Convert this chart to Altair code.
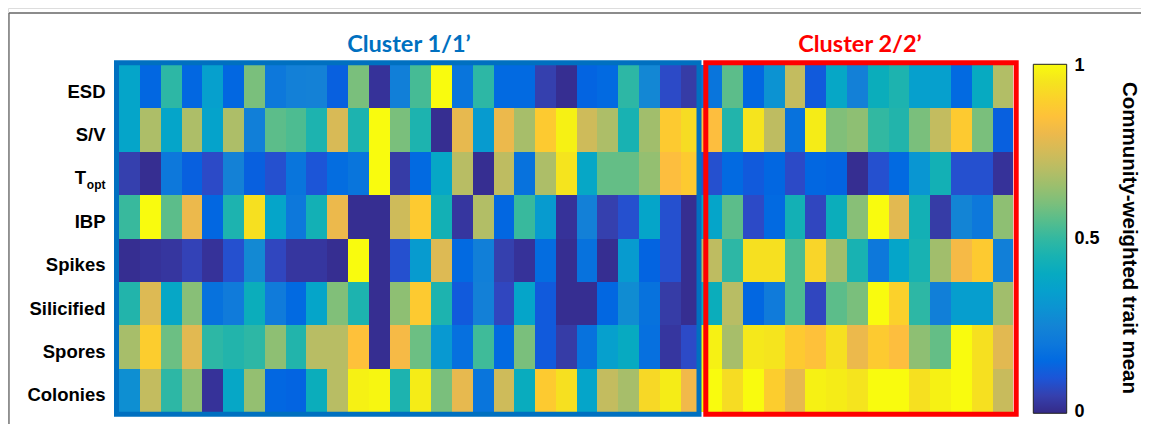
import altair as alt
import pandas as pd

traits = ["ESD", "S/V", "Topt", "IBP", "Spikes", "Silicified", "Spores", "Colonies"]
label_traits = ["ESD", "S/V", "IBP", "Spikes", "Silicified", "Spores", "Colonies"]

esd = [.37,.14,.49,.14,.35,.14,.60,.20,.23,.24,.12,.60,.02,.22,.53,1.0,.19,.49,.15,.15,.05,.01,.13,.15,.49,.26,.08,.04,
       .19,.56,.14,.30,.72,.11,.38,.23,.42,.46,.35,.35,.15,.40,.69]
sv = [.37,.68,.37,.68,.36,.68,.22,.56,.54,.46,.76,.46,1.0,.60,.46,.01,.79,.33,.80,.67,.88,.98,.74,.68,.45,.66,.88,.93,
      .84,.47,.95,.71,.18,.97,.61,.63,.50,.47,.60,.72,.88,.60,.12]
topt = [.05,.01,.20,.12,.08,.24,.12,.09,.19,.10,.16,.19,1.0,.04,.15,.38,.70,.01,.71,.18,.68,.95,.38,.57,.57,.64,.84,.88,
        .09,.15,.11,.14,.08,.14,.13,.01,.09,.15,.31,.44,.09,.09,.02]
ibp = [.51,1.0,.56,.80,.14,.46,.94,.37,.20,.44,.80,.01,.01,.74,.88,.44,.03,.69,.14,.51,.33,.02,.23,.05,.09,.37,.09,.01,
       .37,.56,.08,.15,.44,.07,.42,.62,1.0,.78,.44,.04,.25,.20,.63]
spikes = [.01,.02,.03,.06,.02,.09,.27,.07,.03,.03,.01,1.0,.01,.09,.33,.77,.15,.22,.05,.02,.16,.01,.18,.01,.33,.13,.09,.01,
          .71,.49,.94,.94,.54,.91,.66,.45,.20,.37,.45,.66,.82,.88,.22]
silicified = [.47,.77,.38,.62,.18,.21,.42,.21,.15,.37,.61,.46,.01,.63,.88,.46,.11,.23,.07,.37,.11,.01,.01,.14,.28,.18,.04,.01,
              .42,.70,.14,.21,.54,.07,.56,.60,1.0,.90,.49,.22,.34,.34,.66]
spores = [.67,.89,.58,.78,.49,.47,.49,.63,.47,.70,.70,.85,.01,.82,.58,.32,.17,.52,.15,.60,.11,.04,.18,.35,.40,.17,.03,.08,
          .98,.67,.96,.95,.88,.85,.94,.80,.88,.84,.63,.57,1.0,.94,.78]
colonies = [.29,.72,.49,.63,.02,.38,.64,.14,.13,.42,.70,.98,.99,.46,.97,.60,.79,.19,.74,.41,.88,.94,.37,.72,.67,.92,.97,.81,
            1.0,.93,1.0,.89,.79,.98,.97,.95,1.0,1.0,.94,.98,1.0,.94,.73]
series = [esd, sv, topt, ibp, spikes, silicified, spores, colonies]

parula = [
    "#352a87","#363097","#3637a0","#3540ac","#3243ba","#2c4ac6","#2053d4","#0f5bdd","#0363e1","#0268e1",
    "#046de0","#0771de","#0975dc","#107ada","#1280d8","#1480d6","#1485d4","#1389d3","#108ed2","#0c93d2",
    "#0998d1","#079ccf","#06a0cd","#06a4ca","#06a7c6","#07aac2","#0aacbd","#0faeb8","#15b1b4","#1db3af",
    "#25b5a9","#2eb7a4","#37b99e","#42bb98","#4dbc91","#59bd8b","#65be86","#71bf80","#7cbf7b","#87bf77",
    "#91bf72","#9bbf6e","#a5be6b","#aebe67","#b7bd64","#c0bc60","#c8bb5c","#d1bb59","#d9ba56","#e1b952",
    "#e9b94e","#f1b94a","#f8ba44","#fdbe3d","#ffc337","#fec832","#fccd2e","#fad32a","#f7d826","#f6de21",
    "#f5e51d","#f5eb18","#f6f313","#f9fb0e",
]

colorbar_ticks = [.1,.2,.3,.4,.5,.6,.7,.8,.9]
colorbar_label_values = [0, 0.5, 1]
colorbar_label_texts = ["0", "0.5", "1"]

rows = []
for r, (name, vals) in enumerate(zip(traits, series)):
    for c, v in enumerate(vals):
        rows.append({"trait": name, "row": r, "row_end": r + 1, "col": c, "col_end": c + 1, "value": v})
df = pd.DataFrame(rows)

X_RANGE = [111.3, 1005.3]
Y_RANGE = [57, 404]
x_scale = alt.Scale(domain=[0, 43], range=X_RANGE, round=True)
y_scale = alt.Scale(domain=[0, 8], range=Y_RANGE, round=True)
cb_scale = alt.Scale(domain=[0, 1], range=[404, 58])
sans = "Liberation Sans"

heat = alt.Chart(df).mark_rect(strokeWidth=0).encode(
    x=alt.X("col:Q", scale=x_scale, axis=None),
    x2="col_end:Q",
    y=alt.Y("row:Q", scale=y_scale, axis=None),
    y2="row_end:Q",
    color=alt.Color(
        "value:Q",
        scale=alt.Scale(domain=[0, 1], range=parula),
        legend=alt.Legend(
            orient="none", legendX=1025.3, legendY=56.3, title=None,
            gradientLength=349, gradientThickness=33.4,
            gradientStrokeColor="#222222", gradientStrokeWidth=1,
            values=[0, 0.5, 1], labelExpr="''",
        ),
    ),
)

lab_df = pd.DataFrame({"trait": label_traits, "row": [traits.index(t) + 0.5 for t in label_traits]})
labels = alt.Chart(lab_df).mark_text(
    align="right", baseline="middle", font=sans, fontWeight="bold", fontSize=18.5, color="black", dy=5
).encode(x=alt.value(97.5), y=alt.Y("row:Q", scale=y_scale, axis=None), text="trait:N")

t_df = pd.DataFrame({"main": ["T"], "sub": ["opt"], "row": [traits.index("Topt") + 0.5]})
t_main = alt.Chart(t_df).mark_text(
    align="right", baseline="middle", font=sans, fontWeight="bold", fontSize=18.5, color="black", dy=5
).encode(x=alt.value(78), y=alt.Y("row:Q", scale=y_scale, axis=None), text="main:N")
t_sub = alt.Chart(t_df).mark_text(
    align="right", baseline="middle", font=sans, fontWeight="bold", fontSize=12, color="black", dy=12
).encode(x=alt.value(97.5), y=alt.Y("row:Q", scale=y_scale, axis=None), text="sub:N")

def frame(x0, x1, y0, y1, color, width):
    return alt.Chart(pd.DataFrame({"a": [0]})).mark_rect(
        filled=False, stroke=color, strokeWidth=width
    ).encode(x=alt.value(x0), x2=alt.value(x1), y=alt.value(y0), y2=alt.value(y1))

blue_box = frame(108.5, 691, 54.8, 406.2, "#0070c0", 5)
red_box = frame(697.8, 1008.2, 54.8, 406.2, "#ff0000", 5)

def edge(x0, x1, y0, y1):
    return alt.Chart(pd.DataFrame({"a": [0]})).mark_rule(color="#666666", strokeWidth=1.3).encode(
        x=alt.value(x0), x2=alt.value(x1), y=alt.value(y0), y2=alt.value(y1)
    )

top_edge = edge(1, 1133, 5, 5)
left_edge = edge(1, 1, 5, 416)

def head(text, cx, color):
    return alt.Chart(pd.DataFrame({"t": [text]})).mark_text(
        align="center", baseline="middle", font="Lato", fontWeight="bold", fontSize=23.5, color=color
    ).encode(x=alt.value(cx), y=alt.value(37), text="t:N")

head1 = head("Cluster 1/1\u2019", 401, "#0070c0")
head2 = head("Cluster 2/2\u2019", 852, "#ff0000")

ticks = alt.Chart(pd.DataFrame({"v": colorbar_ticks})).mark_rule(color="#555533", strokeWidth=1).encode(
    x=alt.value(1052.7), x2=alt.value(1058.7),
    y=alt.Y("v:Q", scale=alt.Scale(domain=[0, 1], range=[405.3, 56.3]), axis=None),
)

cb_labels = alt.Chart(pd.DataFrame({"v": colorbar_label_values, "t": colorbar_label_texts})).mark_text(
    align="left", baseline="middle", font=sans, fontWeight="bold", fontSize=18, color="black"
).encode(x=alt.value(1066.5), y=alt.Y("v:Q", scale=cb_scale, axis=None), text="t:N")

cb_title = alt.Chart(pd.DataFrame({"t": ["Community-weighted trait mean"]})).mark_text(
    align="center", baseline="middle", font=sans, fontWeight="bold", fontSize=20.5, color="black", angle=90
).encode(x=alt.value(1121), y=alt.value(230), text="t:N")

chart = alt.layer(
    heat, blue_box, red_box, top_edge, left_edge, labels, t_main, t_sub, head1, head2, ticks, cb_labels, cb_title
).resolve_scale(y="independent", x="independent").properties(
    width=1133, height=416, padding=0, autosize=alt.AutoSizeParams(type="none")
).configure_view(strokeWidth=0).configure(background="white")

chart.save("out.html", embed_options={"renderer": "svg", "actions": False})
